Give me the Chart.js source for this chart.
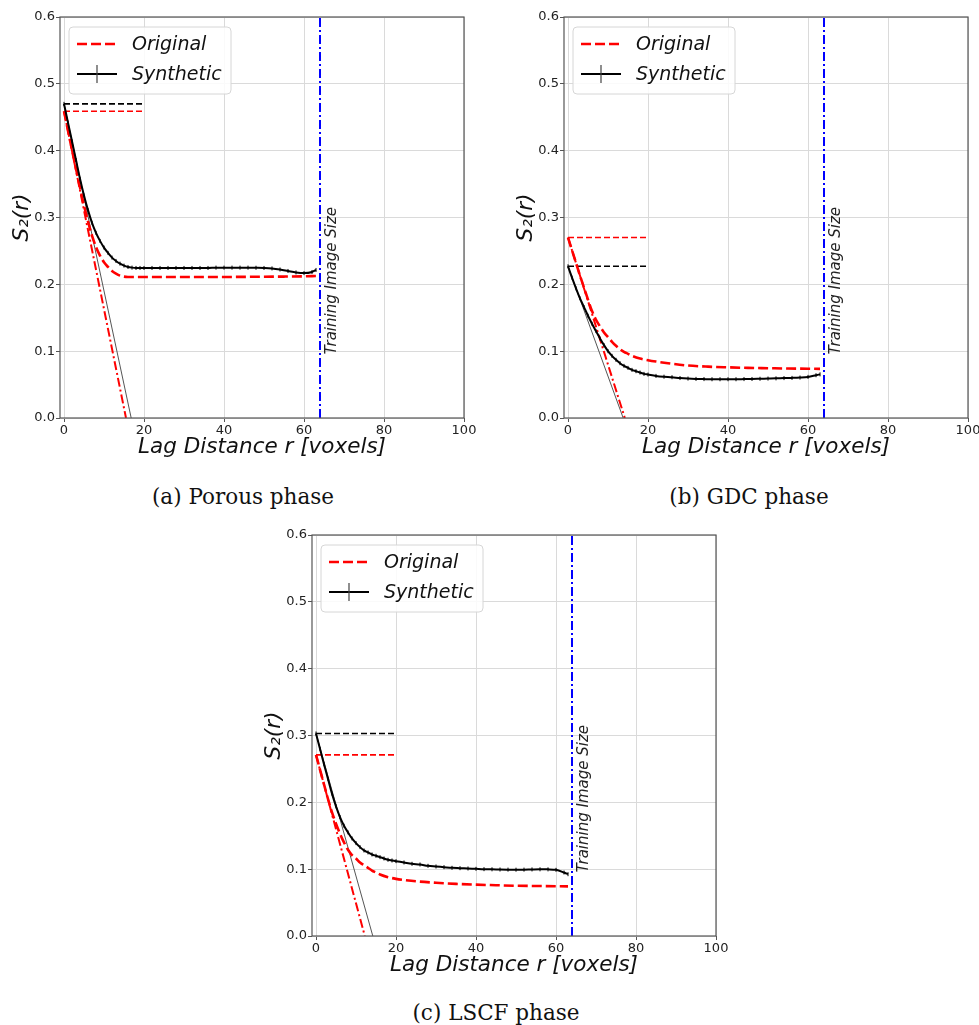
<!DOCTYPE html>
<html>
<head>
<meta charset="utf-8">
<script src="https://cdn.jsdelivr.net/npm/chart.js"></script>
<style>
  html, body { margin: 0; padding: 0; background: #fff; overflow: hidden; }
  body { width: 979px; height: 1025px; position: relative; }
  canvas { position: absolute; }
  .caption {
    position: absolute;
    font-family: "DejaVu Serif", serif;
    font-size: 21.5px;
    line-height: 25px;
    color: #111;
    white-space: nowrap;
    transform: translateX(-50%);
  }
</style>
</head>
<body>
<canvas id="porous" width="480" height="470" style="left:0px;top:0px"></canvas>
<canvas id="gdc" width="480" height="470" style="left:504px;top:0px"></canvas>
<canvas id="lscf" width="480" height="470" style="left:252px;top:518px"></canvas>
<div class="caption" style="left:243px;top:484px">(a) Porous phase</div>
<div class="caption" style="left:749px;top:484px">(b) GDC phase</div>
<div class="caption" style="left:496px;top:1000px">(c) LSCF phase</div>

<script>
// axis ticks
const xTicks = [0, 20, 40, 60, 80, 100]
const yTicks = [0.0, 0.1, 0.2, 0.3, 0.4, 0.5, 0.6]
const trainingImageSize = 64
const refLineEnd = 20

// lag distances (voxels) where the curves were read
const origLag = [0, 1, 2, 3, 4, 5, 6, 7, 8, 9, 10, 11, 12, 13, 14, 15, 16, 18, 20, 22, 25, 30, 35, 40, 45, 50, 55, 60, 63]
const synLag = [0, 1, 2, 3, 4, 5, 6, 7, 8, 9, 10, 11, 12, 13, 14, 15, 16, 17, 18, 19, 20,
  22, 24, 26, 28, 30, 32, 34, 36, 38, 40, 42, 44, 46, 48, 50, 52, 54, 56, 58, 60, 62, 63]

// (a) porous phase
const porousOrig = [0.459, 0.430, 0.401, 0.373, 0.345, 0.318, 0.294, 0.273, 0.256, 0.243, 0.233, 0.226, 0.220, 0.216, 0.213, 0.2115, 0.211, 0.211, 0.211, 0.211, 0.211, 0.211, 0.211, 0.211, 0.2112, 0.2114, 0.2116, 0.212, 0.2125]
const porousSyn = [0.470, 0.442, 0.414, 0.386, 0.358, 0.333, 0.311, 0.292, 0.277, 0.265, 0.255, 0.247, 0.240, 0.235, 0.231, 0.228, 0.226, 0.225, 0.2245, 0.2245, 0.2245,
  0.2245, 0.2245, 0.2245, 0.2245, 0.2245, 0.2245, 0.2245, 0.2245, 0.225, 0.225, 0.225, 0.225, 0.225, 0.2248, 0.2245, 0.2238, 0.2222, 0.220, 0.2178, 0.2168, 0.2185, 0.2215]
const porousS0 = [0.459, 0.470]          // original, synthetic
const porousIntercept = [15.5, 16.8]     // where the slope lines hit zero

// (b) GDC phase
const gdcOrig = [0.270, 0.251, 0.232, 0.213, 0.195, 0.177, 0.160, 0.147, 0.137, 0.128, 0.121, 0.114, 0.108, 0.103, 0.099, 0.096, 0.093, 0.089, 0.0865, 0.0845, 0.082, 0.0785, 0.0768, 0.0758, 0.075, 0.0745, 0.074, 0.0737, 0.0735]
const gdcSyn = [0.227, 0.210, 0.194, 0.179, 0.166, 0.153, 0.141, 0.130, 0.119, 0.109, 0.100, 0.093, 0.087, 0.082, 0.078, 0.075, 0.072, 0.070, 0.068, 0.066, 0.065,
  0.063, 0.0618, 0.061, 0.0598, 0.059, 0.0585, 0.0582, 0.058, 0.058, 0.058, 0.058, 0.0582, 0.0584, 0.0587, 0.059, 0.0593, 0.0597, 0.060, 0.0605, 0.0615, 0.064, 0.0653]
const gdcS0 = [0.270, 0.227]
const gdcIntercept = [14.2, 13.8]

// (c) LSCF phase
const lscfOrig = [0.271, 0.249, 0.227, 0.205, 0.185, 0.168, 0.153, 0.140, 0.129, 0.121, 0.116, 0.110, 0.106, 0.102, 0.098, 0.095, 0.092, 0.088, 0.0855, 0.0838, 0.0818, 0.0797, 0.078, 0.0768, 0.076, 0.0752, 0.0748, 0.0745, 0.0743]
const lscfSyn = [0.303, 0.280, 0.257, 0.235, 0.213, 0.194, 0.178, 0.165, 0.155, 0.146, 0.139, 0.133, 0.128, 0.125, 0.122, 0.120, 0.118, 0.116, 0.114, 0.113, 0.112,
  0.110, 0.108, 0.107, 0.105, 0.104, 0.103, 0.102, 0.1015, 0.101, 0.1005, 0.100, 0.0998, 0.0995, 0.0993, 0.0992, 0.0993, 0.0996, 0.0998, 0.0997, 0.099, 0.095, 0.0925]
const lscfS0 = [0.271, 0.303]
const lscfIntercept = [12.2, 14.2]

const sans = '"DejaVu Sans", sans-serif'

const toPoints = (xs, ys) => xs.map((x, i) => ({x: x, y: ys[i]}))

// frame, legend and the "Training Image Size" note
const decor = {
  id: 'decor',
  afterDatasetsDraw(chart) {
    const {ctx, chartArea: a, scales} = chart
    ctx.save()
    ctx.strokeStyle = '#555'
    ctx.lineWidth = 1.2
    ctx.strokeRect(a.left, a.top, a.right - a.left, a.bottom - a.top)

    // rotated note next to the blue line
    ctx.save()
    ctx.translate(scales.x.getPixelForValue(65) + 1, scales.y.getPixelForValue(0.095))
    ctx.rotate(-Math.PI / 2)
    ctx.font = 'italic 15px ' + sans
    ctx.fillStyle = '#222'
    ctx.textAlign = 'left'
    ctx.textBaseline = 'top'
    ctx.fillText('Training Image Size', 0, 0)
    ctx.restore()

    // legend
    const bx = a.left + 9, by = a.top + 10, bw = 162, bh = 67
    ctx.beginPath()
    ctx.roundRect(bx, by, bw, bh, 4)
    ctx.fillStyle = 'rgba(255,255,255,0.85)'
    ctx.fill()
    ctx.strokeStyle = '#d6d6d6'
    ctx.lineWidth = 1
    ctx.stroke()

    ctx.lineWidth = 2.6
    ctx.strokeStyle = '#ff0000'
    ctx.setLineDash([10, 4])
    ctx.beginPath()
    ctx.moveTo(a.left + 17, a.top + 27)
    ctx.lineTo(a.left + 57, a.top + 27)
    ctx.stroke()
    ctx.setLineDash([])

    ctx.lineWidth = 2
    ctx.strokeStyle = '#000'
    ctx.beginPath()
    ctx.moveTo(a.left + 17, a.top + 57)
    ctx.lineTo(a.left + 57, a.top + 57)
    ctx.stroke()
    ctx.lineWidth = 1.2
    ctx.strokeStyle = '#444'
    ctx.beginPath()
    ctx.moveTo(a.left + 37, a.top + 48)
    ctx.lineTo(a.left + 37, a.top + 66)
    ctx.stroke()

    ctx.font = 'italic 19px ' + sans
    ctx.fillStyle = '#111'
    ctx.textAlign = 'left'
    ctx.textBaseline = 'middle'
    ctx.fillText('Original', a.left + 72, a.top + 28)
    ctx.fillText('Synthetic', a.left + 72, a.top + 58)
    ctx.restore()
  }
}

const makeChart = (id, orig, syn, s0, intercept) => {
  const ctx = document.getElementById(id)
  return new Chart(ctx, {
    type: 'line',
    data: {
      datasets: [
        {
          label: 'Synthetic',
          data: toPoints(synLag, syn),
          borderColor: '#000',
          borderWidth: 2,
          cubicInterpolationMode: 'monotone',
          pointStyle: 'line',
          rotation: 90,
          pointRadius: 2,
          pointBorderWidth: 1,
          pointBorderColor: '#000'
        },
        {
          label: 'Original',
          data: toPoints(origLag, orig),
          borderColor: '#ff0000',
          borderWidth: 2.6,
          borderDash: [10, 4],
          cubicInterpolationMode: 'monotone',
          pointRadius: 0
        },
        {
          label: 'orig S0',
          data: [{x: 0, y: s0[0]}, {x: refLineEnd, y: s0[0]}],
          borderColor: '#ff0000',
          borderWidth: 1.6,
          borderDash: [6, 3],
          pointRadius: 0
        },
        {
          label: 'syn S0',
          data: [{x: 0, y: s0[1]}, {x: refLineEnd, y: s0[1]}],
          borderColor: '#000',
          borderWidth: 1.6,
          borderDash: [6, 3],
          pointRadius: 0
        },
        {
          label: 'orig slope',
          data: [{x: 0, y: s0[0]}, {x: intercept[0], y: 0}],
          borderColor: '#ff0000',
          borderWidth: 2,
          borderDash: [9, 3, 2, 3],
          pointRadius: 0
        },
        {
          label: 'syn slope',
          data: [{x: 0, y: s0[1]}, {x: intercept[1], y: 0}],
          borderColor: '#555',
          borderWidth: 1,
          pointRadius: 0
        },
        {
          label: 'training size',
          data: [{x: trainingImageSize, y: 0}, {x: trainingImageSize, y: 0.6}],
          borderColor: '#0000ff',
          borderWidth: 2,
          borderDash: [9, 3, 2, 3],
          pointRadius: 0
        }
      ]
    },
    options: {
      responsive: false,
      animation: false,
      devicePixelRatio: 1,
      layout: {padding: {top: 17, right: 16, left: 0, bottom: 0}},
      plugins: {legend: {display: false}, tooltip: {enabled: false}},
      scales: {
        x: {
          type: 'linear',
          min: -1,
          max: 100,
          afterBuildTicks: scale => { scale.ticks = xTicks.map(v => ({value: v})) },
          afterFit: scale => { scale.height = 52 },
          border: {display: false},
          grid: {color: '#dadada', lineWidth: 1, tickLength: 4, tickColor: '#555'},
          ticks: {padding: 1, maxRotation: 0, color: '#222', font: {family: sans, size: 13}},
          title: {
            display: true,
            text: 'Lag Distance r [voxels]',
            color: '#111',
            padding: {top: 0, bottom: 10},
            font: {family: sans, size: 21.5, style: 'italic'}
          }
        },
        y: {
          type: 'linear',
          min: 0,
          max: 0.6,
          afterBuildTicks: scale => { scale.ticks = yTicks.map(v => ({value: v})) },
          afterFit: scale => { scale.width = 60 },
          border: {display: false},
          grid: {color: '#dadada', lineWidth: 1, tickLength: 4, tickColor: '#555'},
          ticks: {
            padding: 1,
            color: '#222',
            font: {family: sans, size: 13},
            callback: v => v.toFixed(1)
          },
          title: {
            display: true,
            text: 'S₂(r)',
            color: '#111',
            padding: {top: 10, bottom: 0},
            font: {family: sans, size: 21.5, style: 'italic'}
          }
        }
      }
    },
    plugins: [decor]
  })
}

makeChart('porous', porousOrig, porousSyn, porousS0, porousIntercept)
makeChart('gdc', gdcOrig, gdcSyn, gdcS0, gdcIntercept)
makeChart('lscf', lscfOrig, lscfSyn, lscfS0, lscfIntercept)
</script>
</body>
</html>
